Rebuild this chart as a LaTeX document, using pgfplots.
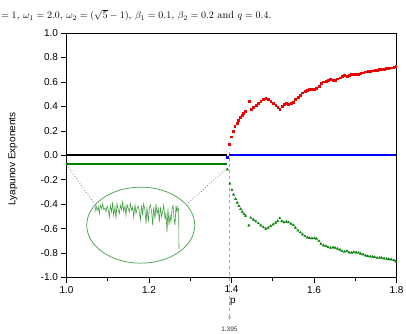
\documentclass[border=0pt]{standalone}
\usepackage{fontspec}
\setsansfont{Liberation Sans}
\usepackage{pgfplots}
\pgfplotsset{compat=1.18}
\usetikzlibrary{arrows.meta}
\definecolor{lred}{RGB}{240,0,0}
\definecolor{lgreen}{RGB}{0,128,0}
\definecolor{lblue}{RGB}{0,0,255}
\definecolor{ellgreen}{RGB}{70,160,70}
\definecolor{dotgray}{RGB}{120,130,150}
\pgfplotstableread{
p L
1.395 0.090
1.399 0.152
1.404 0.200
1.408 0.236
1.413 0.265
1.417 0.290
1.421 0.312
1.425 0.330
1.429 0.346
1.433 0.360
1.442 0.443
1.447 0.378
1.453 0.396
1.459 0.412
1.465 0.429
1.471 0.445
1.477 0.458
1.483 0.467
1.489 0.459
1.495 0.445
1.501 0.429
1.507 0.412
1.512 0.396
1.517 0.374
1.522 0.402
1.527 0.416
1.533 0.426
1.538 0.418
1.544 0.428
1.550 0.437
1.555 0.456
1.561 0.478
1.567 0.494
1.572 0.511
1.578 0.525
1.584 0.535
1.589 0.541
1.595 0.543
1.601 0.541
1.606 0.547
1.612 0.566
1.617 0.588
1.623 0.601
1.629 0.607
1.634 0.615
1.640 0.620
1.646 0.615
1.651 0.617
1.657 0.626
1.663 0.634
1.668 0.648
1.674 0.653
1.680 0.648
1.685 0.658
1.691 0.664
1.696 0.661
1.702 0.664
1.708 0.664
1.713 0.670
1.719 0.675
1.725 0.683
1.730 0.686
1.736 0.689
1.742 0.691
1.747 0.697
1.753 0.699
1.759 0.702
1.764 0.702
1.770 0.707
1.776 0.711
1.781 0.713
1.787 0.716
1.793 0.721
1.798 0.730
}\redtable
\pgfplotstableread{
p L
1.390 -0.117
1.396 -0.232
1.401 -0.283
1.405 -0.322
1.410 -0.358
1.414 -0.388
1.418 -0.415
1.422 -0.440
1.426 -0.462
1.430 -0.481
1.434 -0.496
1.442 -0.574
1.447 -0.512
1.453 -0.527
1.459 -0.541
1.465 -0.557
1.471 -0.574
1.477 -0.588
1.483 -0.601
1.489 -0.593
1.495 -0.579
1.501 -0.566
1.507 -0.552
1.512 -0.538
1.517 -0.516
1.522 -0.538
1.527 -0.549
1.533 -0.544
1.538 -0.549
1.544 -0.560
1.550 -0.571
1.555 -0.593
1.561 -0.615
1.567 -0.631
1.572 -0.648
1.578 -0.661
1.584 -0.672
1.589 -0.678
1.595 -0.680
1.601 -0.678
1.606 -0.683
1.612 -0.702
1.617 -0.724
1.623 -0.738
1.629 -0.743
1.634 -0.751
1.640 -0.757
1.646 -0.754
1.651 -0.757
1.657 -0.765
1.663 -0.773
1.668 -0.784
1.674 -0.790
1.680 -0.784
1.685 -0.795
1.691 -0.798
1.696 -0.792
1.702 -0.795
1.708 -0.798
1.713 -0.806
1.719 -0.811
1.725 -0.820
1.730 -0.825
1.736 -0.828
1.742 -0.830
1.747 -0.833
1.753 -0.839
1.759 -0.839
1.764 -0.839
1.770 -0.844
1.776 -0.847
1.781 -0.850
1.787 -0.852
1.793 -0.858
1.798 -0.869
}\greentable
\pgfplotstableread{
p L
1.0691 -0.4645
1.0715 -0.4098
1.0739 -0.4508
1.0772 -0.4235
1.0796 -0.4781
1.0820 -0.4098
1.0853 -0.4371
1.0877 -0.3962
1.0901 -0.4426
1.0933 -0.4317
1.0958 -0.4645
1.0982 -0.4153
1.1014 -0.4508
1.1038 -0.5054
1.1063 -0.4098
1.1095 -0.4645
1.1119 -0.3825
1.1143 -0.4918
1.1176 -0.4235
1.1200 -0.5191
1.1224 -0.3962
1.1257 -0.4508
1.1281 -0.4781
1.1305 -0.4098
1.1337 -0.4426
1.1362 -0.3825
1.1386 -0.4590
1.1418 -0.4153
1.1442 -0.4918
1.1467 -0.4044
1.1499 -0.4371
1.1523 -0.4645
1.1548 -0.3962
1.1580 -0.4508
1.1604 -0.4235
1.1628 -0.5054
1.1661 -0.4044
1.1685 -0.4781
1.1709 -0.4371
1.1741 -0.4153
1.1766 -0.4645
1.1790 -0.5328
1.1822 -0.4098
1.1846 -0.4918
1.1871 -0.3962
1.1903 -0.4508
1.1927 -0.5601
1.1952 -0.4235
1.1984 -0.5464
1.2008 -0.4371
1.2032 -0.4044
1.2065 -0.4645
1.2089 -0.5737
1.2113 -0.4235
1.2145 -0.5191
1.2170 -0.3962
1.2194 -0.4781
1.2226 -0.4371
1.2250 -0.5464
1.2275 -0.4235
1.2307 -0.5054
1.2331 -0.4590
1.2355 -0.4098
1.2388 -0.5191
1.2412 -0.4781
1.2436 -0.6284
1.2460 -0.4371
1.2485 -0.5683
1.2509 -0.4918
1.2533 -0.5464
1.2558 -0.4371
1.2582 -0.4098
1.2606 -0.5054
1.2630 -0.5737
1.2655 -0.4098
1.2679 -0.4645
1.2703 -0.4235
1.2719 -0.4508
1.2727 -0.7650
}\insettable
\begin{document}
\begin{tikzpicture}
\useasboundingbox (-66.5pt,-55.5pt) rectangle (339.5pt,277.5pt);
\node[anchor=base west, inner sep=0pt, font=\fontsize{10.4}{12.5}\selectfont] at (-65.5pt,259pt)
  {$=1$, $\omega_1=2.0$, $\omega_2=(\sqrt{5}-1)$, $\beta_1=0.1$, $\beta_2=0.2$ and $q=0.4$.};
\begin{axis}[
  scale only axis, width=330pt, height=244.5pt,
  at={(0,0)}, anchor=south west,
  xmin=1.0, xmax=1.8, ymin=-1, ymax=1,
  xtick={1.0,1.2,1.4,1.6,1.8},
  ytick={-1.0,-0.8,-0.6,-0.4,-0.2,0,0.2,0.4,0.6,0.8,1.0},
  minor xtick={1.1,1.3,1.5,1.7},
  tick pos=left, tick align=outside,
  major tick length=5pt, minor tick length=3pt,
  tick style={black, line width=0.6pt},
  axis line style={line width=0.8pt},
  font=\sffamily\fontsize{10}{12}\selectfont,
  /pgf/number format/assume math mode=true,
  /pgf/number format/.cd, fixed, fixed zerofill, precision=1, /pgfplots/.cd,
  ticklabel style={font=\sffamily\fontsize{10}{12}\selectfont},
  xlabel={p}, ylabel={Lyapunov Exponents},
  xlabel style={at={(axis description cs:0.504,0)}, anchor=center, yshift=-24pt},
  ylabel style={at={(axis description cs:-0.1621,0.485)}, anchor=center},
  clip=false,
]
% dashed marker line at p = 1.395
\addplot[gray!70, dashed, line width=0.6pt, -{Stealth[length=3pt,width=3pt]}] coordinates {(1.395,0.03) (1.395,-1.345)};
\node[font=\sffamily\fontsize{6.5}{7}\selectfont, text=black!80] at (axis cs:1.395,-1.42) {1.395};
% zero exponents
\addplot[black, line width=1.9pt] coordinates {(1.0,0) (1.39,0)};
\addplot[lblue, line width=1.9pt] coordinates {(1.395,0) (1.8,0)};
\addplot[lblue, only marks, mark=square*, mark size=1pt] coordinates {(1.39,-0.02)};
% negative exponent before bifurcation
\addplot[lgreen, line width=1.9pt] coordinates {(1.0,-0.068) (1.389,-0.068)};
% positive exponent
\addplot[lred, only marks, mark=square*, mark size=0.9pt] table[x=p,y=L] {\redtable};
% negative exponent after
\addplot[lgreen, only marks, mark=triangle*, mark size=1.3pt] table[x=p,y=L] {\greentable};
% inset magnification
\addplot[dotgray, dotted, line width=0.8pt] coordinates {(1.0044,-0.096) (1.065,-0.383)};
\addplot[dotgray, dotted, line width=0.8pt] coordinates {(1.388,-0.109) (1.295,-0.391)};
\draw[ellgreen, line width=0.7pt] (axis cs:1.18,-0.572) ellipse [x radius=54pt, y radius=38pt];
\addplot[ellgreen, line width=0.6pt] table[x=p,y=L] {\insettable};
\end{axis}
\end{tikzpicture}
\end{document}
